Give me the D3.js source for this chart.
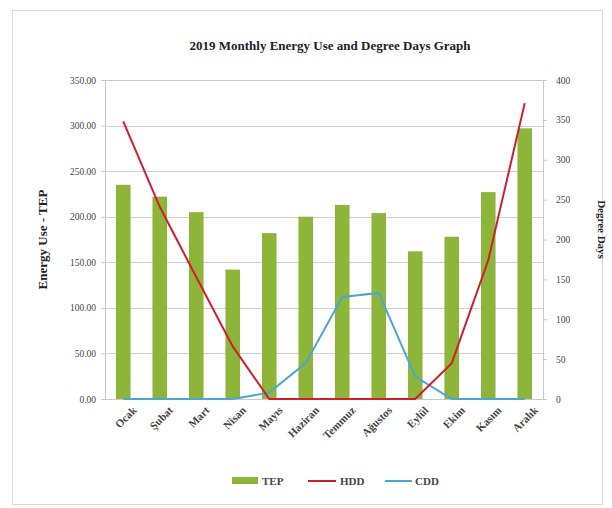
<!DOCTYPE html>
<html>
<head>
<meta charset="utf-8">
<script src="https://cdn.jsdelivr.net/npm/d3@7"></script>
<style>
  body { margin: 0; background: #fff; }
  text { font-family: "Liberation Serif", "Times New Roman", serif; fill: #222; }
</style>
</head>
<body>
<div id="chart"></div>
<script>
var months = ["Ocak", "Şubat", "Mart", "Nisan", "Mayıs", "Haziran", "Temmuz", "Ağustos", "Eylül", "Ekim", "Kasım", "Aralık"];
var tep = [235, 222, 205, 142, 182, 200, 213, 204, 162, 178, 227, 297];
var hdd = [348, 241, 153, 66, 0, 0, 0, 0, 0, 45, 174, 371];
var cdd = [0, 0, 0, 0, 8, 45, 128, 133, 28, 0, 0, 0];
var leftTicks = [0, 50, 100, 150, 200, 250, 300, 350];
var rightTicks = [0, 50, 100, 150, 200, 250, 300, 350, 400];

var width = 612, height = 508;
var margin = {top: 80, right: 69, bottom: 109, left: 105};
var iw = width - margin.left - margin.right,
    ih = height - margin.top - margin.bottom;

var svg = d3.select("#chart").append("svg")
    .attr("width", width)
    .attr("height", height);

// outer chart border
svg.append("rect")
    .attr("x", 12.5).attr("y", 10.5)
    .attr("width", 590).attr("height", 494)
    .attr("fill", "#fff")
    .attr("stroke", "#d9d9d9");

var g = svg.append("g").attr("transform", "translate(" + margin.left + "," + margin.top + ")");

var x = d3.scaleBand().domain(months).range([0, iw]).paddingInner(0.6).paddingOuter(0.3);
var yL = d3.scaleLinear().domain([0, 350]).range([ih, 0]);
var yR = d3.scaleLinear().domain([0, 400]).range([ih, 0]);

// gridlines
g.append("g")
  .selectAll("line")
  .data(leftTicks)
  .enter().append("line")
    .attr("x1", 0).attr("x2", iw)
    .attr("y1", function(d) { return Math.round(yL(d)) + 0.5; })
    .attr("y2", function(d) { return Math.round(yL(d)) + 0.5; })
    .attr("stroke", "#d0d0d0");

g.append("rect")
    .attr("x", 0.5).attr("y", 0.5)
    .attr("width", iw).attr("height", ih)
    .attr("fill", "none")
    .attr("stroke", "#c8c8c8");

// left axis
var axL = g.append("g")
    .call(d3.axisLeft(yL).tickValues(leftTicks).tickFormat(d3.format(".2f")).tickSize(4).tickPadding(5));
axL.select(".domain").attr("stroke", "#c8c8c8");
axL.selectAll(".tick line").attr("stroke", "#c8c8c8");
axL.selectAll("text").style("font-size", "9.5px").style("font-family", "Liberation Serif").style("fill", "#444");

// right axis
var axR = g.append("g")
    .attr("transform", "translate(" + iw + ",0)")
    .call(d3.axisRight(yR).tickValues(rightTicks).tickSize(4).tickPadding(9));
axR.select(".domain").attr("stroke", "#c8c8c8");
axR.selectAll(".tick line").attr("stroke", "#c8c8c8");
axR.selectAll("text").style("font-size", "9.5px").style("font-family", "Liberation Serif").style("fill", "#444");

// x axis
var axX = g.append("g")
    .attr("transform", "translate(0," + ih + ")")
    .call(d3.axisBottom(x).tickSize(0).tickPadding(6));
axX.select(".domain").remove();
axX.selectAll("text")
    .style("font-size", "11px")
    .style("font-weight", "bold")
    .style("font-family", "Liberation Serif")
    .style("fill", "#444")
    .attr("text-anchor", "end")
    .attr("dy", "0.35em")
    .attr("transform", "translate(7,5) rotate(-45)");

// bars
g.append("g")
  .selectAll("rect")
  .data(tep)
  .enter().append("rect")
    .attr("x", function(d, i) { return x(months[i]); })
    .attr("y", function(d) { return yL(d); })
    .attr("width", x.bandwidth())
    .attr("height", function(d) { return ih - yL(d); })
    .attr("fill", "#8db53a");

var line = d3.line()
    .x(function(d, i) { return x(months[i]) + x.bandwidth() / 2; })
    .y(function(d) { return yR(d); });

g.append("path").datum(cdd)
    .attr("d", line)
    .attr("fill", "none")
    .attr("stroke", "#4ba6d6")
    .attr("stroke-width", 2);

g.append("path").datum(hdd)
    .attr("d", line)
    .attr("fill", "none")
    .attr("stroke", "#cf1f2e")
    .attr("stroke-width", 2);

// title
svg.append("text")
    .attr("x", 330).attr("y", 50)
    .attr("text-anchor", "middle")
    .style("font-size", "13px")
    .style("font-weight", "bold")
    .text("2019 Monthly Energy Use and Degree Days Graph");

// axis titles
svg.append("text")
    .attr("transform", "translate(47," + (margin.top + ih / 2) + ") rotate(-90)")
    .attr("text-anchor", "middle")
    .style("font-size", "13px")
    .style("font-weight", "bold")
    .text("Energy Use - TEP");

svg.append("text")
    .attr("transform", "translate(598," + (margin.top + ih / 2 - 10) + ") rotate(90)")
    .attr("text-anchor", "middle")
    .style("font-size", "11px")
    .style("font-weight", "bold")
    .text("Degree Days");

// legend
var legend = svg.append("g").attr("transform", "translate(0,481)");
legend.append("rect").attr("x", 232).attr("y", -4).attr("width", 26).attr("height", 7).attr("fill", "#8db53a");
legend.append("text").attr("x", 262).attr("y", 4).style("font-size", "11px").style("font-weight", "bold").style("fill", "#444").text("TEP");
legend.append("line").attr("x1", 308).attr("x2", 336).attr("y1", 0).attr("y2", 0).attr("stroke", "#cf1f2e").attr("stroke-width", 2);
legend.append("text").attr("x", 340).attr("y", 4).style("font-size", "11px").style("font-weight", "bold").style("fill", "#444").text("HDD");
legend.append("line").attr("x1", 385).attr("x2", 412).attr("y1", 0).attr("y2", 0).attr("stroke", "#4ba6d6").attr("stroke-width", 2);
legend.append("text").attr("x", 415).attr("y", 4).style("font-size", "11px").style("font-weight", "bold").style("fill", "#444").text("CDD");
</script>
</body>
</html>
